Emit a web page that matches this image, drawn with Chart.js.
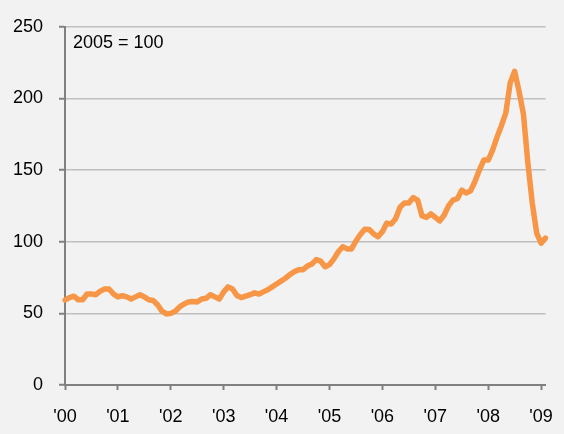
<!DOCTYPE html>
<html>
<head>
<meta charset="utf-8">
<script src="https://cdn.jsdelivr.net/npm/chart.js@4.4.1/dist/chart.umd.min.js"></script>
<style>
    html, body { margin: 0; padding: 0; background: #f2f2f2; }
    #wrap { width: 564px; height: 434px; }
</style>
</head>
<body>
<div id="wrap"><canvas id="chart" width="564" height="434"></canvas></div>
<script>
// monthly index values, 2005 = 100
const v2000 = [59.3, 61, 62, 59.5, 59.5, 63.5, 63.5, 63, 65.5, 67, 67, 63.5];
const v2001 = [61.5, 62.3, 61.5, 60, 61.5, 63, 61.5, 59.5, 59, 56, 51.5, 49.6];
const v2002 = [50, 51.5, 54.5, 56.5, 58, 58.2, 58, 60, 60.5, 63, 61.5, 60];
const v2003 = [65, 68.5, 67, 62.5, 61, 62, 63, 64.3, 63.5, 65, 66.5, 68.5];
const v2004 = [70.5, 72.5, 74.5, 77, 79, 80.5, 80.5, 83, 84.5, 87.5, 86.5, 82.5];
const v2005 = [84, 88, 93, 96.5, 95, 95, 100.5, 105, 108.7, 108.5, 105.5, 103.5];
const v2006 = [107, 113, 112.3, 116, 124, 127, 127, 130.8, 129, 118, 117, 119.5];
const v2007 = [117, 114.5, 118.5, 125, 129, 130, 136, 134, 135.5, 142, 150, 157];
const v2008 = [157, 164, 173, 181, 190, 211, 219, 205, 189, 155, 127, 106];
const v2009 = [99, 102.5];

const years = ['2000', '2001', '2002', '2003', '2004', '2005', '2006', '2007', '2008', '2009'];
const yearLabels = ["'00", "'01", "'02", "'03", "'04", "'05", "'06", "'07", "'08", "'09"];
const yTicks = [0, 50, 100, 150, 200, 250];

const values = [].concat(v2000, v2001, v2002, v2003, v2004, v2005, v2006, v2007, v2008, v2009);
const months = values.map((v, i) => years[Math.floor(i / 12)] + '-' + String(i % 12 + 1).padStart(2, '0'));

const baseNote = {
    id: 'baseNote',
    afterDraw(chart) {
        const ctx = chart.ctx;
        ctx.save();
        ctx.font = '18px "Liberation Sans", Arial, sans-serif';
        ctx.fillStyle = '#000';
        ctx.textBaseline = 'middle';
        ctx.fillText('2005 = 100', chart.chartArea.left + 8, 43);
        ctx.restore();
    }
};

const bg = {
    id: 'bg',
    beforeDraw(chart) {
        const ctx = chart.ctx;
        ctx.save();
        ctx.fillStyle = '#f2f2f2';
        ctx.fillRect(0, 0, chart.width, chart.height);
        ctx.restore();
    }
};

Chart.defaults.font.family = '"Liberation Sans", Arial, sans-serif';
Chart.defaults.font.size = 18;
Chart.defaults.color = '#000';

new Chart(document.getElementById('chart'), {
    type: 'line',
    data: {
        labels: months,
        datasets: [{
            label: 'Index',
            data: values,
            borderColor: '#f79646',
            borderWidth: 5.5,
            pointRadius: 0,
            tension: 0,
            borderJoinStyle: 'round',
            borderCapStyle: 'round',
            fill: false
        }]
    },
    options: {
        responsive: false,
        animation: false,
        layout: { padding: { top: 22.5, right: 18.5, bottom: 0, left: 0 } },
        plugins: {
            legend: { display: false },
            tooltip: { enabled: false },
            title: { display: false }
        },
        scales: {
            x: {
                type: 'category',
                offset: false,
                afterBuildTicks(axis) {
                    axis.ticks = axis.ticks.filter(t => t.value % 12 === 0);
                },
                afterFit(axis) {
                    axis.height = 49;
                    axis.paddingLeft = 0;
                    axis.paddingRight = 0;
                },
                ticks: {
                    autoSkip: false,
                    maxRotation: 0,
                    padding: 16,
                    callback: (value) => yearLabels[Math.floor(value / 12)]
                },
                grid: {
                    drawOnChartArea: false,
                    drawTicks: true,
                    tickLength: 5,
                    tickColor: '#808080',
                    tickWidth: 2
                },
                border: { color: '#808080', width: 2 }
            },
            y: {
                min: 0,
                max: 250,
                afterBuildTicks(axis) {
                    axis.ticks = yTicks.map(v => ({ value: v }));
                },
                afterFit(axis) { axis.width = 65; },
                ticks: { padding: 16 },
                grid: {
                    color: '#bfbfbf',
                    lineWidth: 1.5,
                    tickLength: 6,
                    tickColor: '#808080',
                    tickWidth: 2
                },
                border: { color: '#808080', width: 2 }
            }
        }
    },
    plugins: [bg, baseNote]
});
</script>
</body>
</html>
